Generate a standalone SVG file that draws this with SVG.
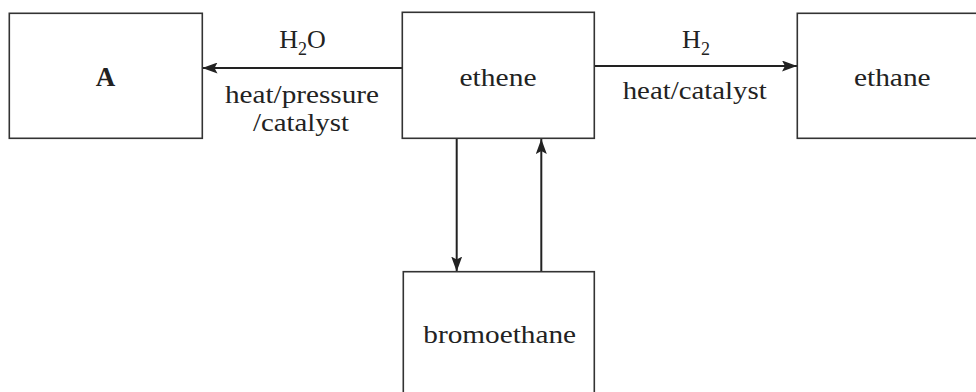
<svg xmlns="http://www.w3.org/2000/svg" width="976" height="392" viewBox="0 0 976 392">
<style>
.box{fill:#fff;stroke:#333;stroke-width:1.6}
.t{font-family:"Liberation Serif",serif;font-size:26px;fill:#222;text-anchor:middle}
.s{font-size:24.5px}
.b{font-weight:bold;font-size:27px}
.c{stroke:#222;stroke-width:2;fill:none}
</style>
<defs>
<marker id="arr" viewBox="0 0 15 11" refX="15" refY="5.5" markerWidth="15" markerHeight="11" markerUnits="userSpaceOnUse" orient="auto">
<path d="M0,0 L15,5.5 L0,11 L3,5.5 z" fill="#222"/>
</marker>
</defs>
<rect width="976" height="392" fill="#fff"/>
<g id="connectors">
<line class="c" x1="402" y1="68" x2="202.5" y2="68" marker-end="url(#arr)"/>
<line class="c" x1="594" y1="66" x2="797" y2="66" marker-end="url(#arr)"/>
<line class="c" x1="456.7" y1="139" x2="456.7" y2="271.5" marker-end="url(#arr)"/>
<line class="c" x1="541.3" y1="271.5" x2="541.3" y2="139" stroke-width="3" marker-end="url(#arr)"/>
<text class="t" x="302.5" y="48">H<tspan font-size="18" dy="7">2</tspan><tspan dy="-7">O</tspan></text>
<text class="t s" x="302" y="103" textLength="154" lengthAdjust="spacingAndGlyphs">heat/pressure</text>
<text class="t s" x="301" y="130.5" textLength="96" lengthAdjust="spacingAndGlyphs">/catalyst</text>
<text class="t" x="696" y="48">H<tspan font-size="18" dy="7">2</tspan></text>
<text class="t" x="694.7" y="99" textLength="144" lengthAdjust="spacingAndGlyphs">heat/catalyst</text>
</g>
<g id="nodeA">
<rect class="box" x="9.3" y="13.3" width="193" height="125"/>
<text class="t b" x="105.5" y="86">A</text>
</g>
<g id="ethene">
<rect class="box" x="402.3" y="12.3" width="192" height="126"/>
<text class="t" x="498" y="86" textLength="77" lengthAdjust="spacingAndGlyphs">ethene</text>
</g>
<g id="ethane">
<rect class="box" x="797.3" y="13.3" width="192" height="125"/>
<text class="t" x="892.3" y="86" textLength="76.7" lengthAdjust="spacingAndGlyphs">ethane</text>
</g>
<g id="bromoethane">
<rect class="box" x="403.3" y="271.7" width="191" height="130"/>
<text class="t" x="499.7" y="343" textLength="152.7" lengthAdjust="spacingAndGlyphs">bromoethane</text>
</g>
</svg>
